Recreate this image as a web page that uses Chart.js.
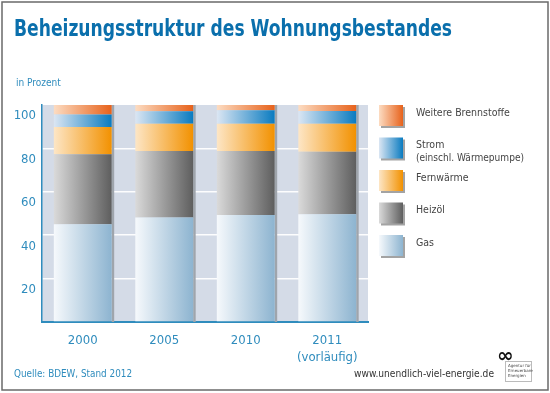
<!DOCTYPE html>
<html>
<head>
<meta charset="utf-8">
<script src="https://cdn.jsdelivr.net/npm/chart.js@4"></script>
<style>
  html, body { margin: 0; padding: 0; background: #fff; }
  #wrap { width: 550px; height: 393px; }
</style>
</head>
<body>
<div id="wrap"><canvas id="heizChart" width="550" height="393"></canvas></div>
<script>
// Beheizungsstruktur des Wohnungsbestandes, in Prozent
const years = ["2000", "2005", "2010", ["2011", "(vorläufig)"]];

const gas       = [45.0, 48.1, 49.3, 49.6];
const heizoel   = [32.3, 30.7, 29.5, 28.9];
const fernwaerme = [12.6, 12.6, 12.6, 12.9];
const strom     = [5.7, 5.7, 6.2, 5.8];
const weitere   = [4.4, 2.9, 2.4, 2.8];

const yTicks = [20, 40, 60, 80, 100];

const FONT = "'DejaVu Sans Condensed', 'Liberation Sans Narrow', 'DejaVu Sans', sans-serif";
const BLUE = "#2f8cbd";
const BAR_PCT = 0.71;

// left (light) -> right (full colour) gradient for each bar segment
function barGradient(light, dark) {
  return function (c) {
    const chart = c.chart;
    const xs = chart.scales.x;
    if (!xs || c.dataIndex === undefined) return dark;
    const cx = xs.getPixelForValue(c.dataIndex);
    const w = xs.width / years.length * BAR_PCT;
    if (!isFinite(cx) || !isFinite(w) || w <= 0) return dark;
    const g = chart.ctx.createLinearGradient(cx - w / 2, 0, cx + w / 2, 0);
    g.addColorStop(0, light);
    g.addColorStop(1, dark);
    return g;
  };
}

const series = [
  { label: "Gas", data: gas, light: "#f6f9fc", dark: "#8db4d0" },
  { label: "Heizöl", data: heizoel, light: "#dadada", dark: "#5e5e5e" },
  { label: "Fernwärme", data: fernwaerme, light: "#fde6c6", dark: "#f29100" },
  { label: ["Strom", "(einschl. Wärmepumpe)"], data: strom, light: "#dbe6f3", dark: "#0a7bc0" },
  { label: "Weitere Brennstoffe", data: weitere, light: "#fcdcc2", dark: "#e7621b" }
];

const plotBg = {
  id: "plotBg",
  beforeDraw(chart) {
    const { ctx, chartArea: a } = chart;
    ctx.save();
    ctx.fillStyle = "#d4dbe7";
    ctx.fillRect(a.left, a.top, a.right - a.left, a.bottom - a.top);
    ctx.restore();
  },
  beforeDatasetsDraw(chart) {
    // grey shadow right of each bar column
    const { ctx, chartArea: a } = chart;
    const meta = chart.getDatasetMeta(0);
    ctx.save();
    ctx.fillStyle = "#9fa5ac";
    meta.data.forEach(el => {
      ctx.fillRect(el.x + el.width / 2, a.top, 2.5, a.bottom - a.top);
    });
    ctx.restore();
  }
};

const decorations = {
  id: "decorations",
  afterDraw(chart) {
    const ctx = chart.ctx;
    ctx.save();
    // frame
    ctx.strokeStyle = "#6a6a6a";
    ctx.lineWidth = 1.5;
    ctx.strokeRect(2, 2, 546, 388);

    // title
    ctx.fillStyle = "#0a6fac";
    ctx.font = "bold 23px " + FONT;
    ctx.textBaseline = "alphabetic";
    ctx.textAlign = "left";
    ctx.fillText("Beheizungsstruktur des Wohnungsbestandes", 14, 36, 438);

    ctx.fillStyle = BLUE;
    ctx.font = "10px " + FONT;
    ctx.fillText("in Prozent", 16, 86);

    // legend (top = last dataset)
    const ds = chart.data.datasets;
    for (let i = 0; i < ds.length; i++) {
      const s = series[ds.length - 1 - i];
      const top = 105 + i * 32.5;
      ctx.fillStyle = "#a3a3a3";
      ctx.fillRect(381, top + 2, 24, 21);
      const g = ctx.createLinearGradient(379, 0, 403, 0);
      g.addColorStop(0, s.light);
      g.addColorStop(1, s.dark);
      ctx.fillStyle = g;
      ctx.fillRect(379, top, 24, 21);
      ctx.fillStyle = "#444";
      ctx.font = "10.5px " + FONT;
      ctx.textBaseline = "middle";
      const lines = Array.isArray(s.label) ? s.label : [s.label];
      lines.forEach((t, k) => ctx.fillText(t, 416, top + 8 + k * 12.5, 108));
    }

    // footer
    ctx.textBaseline = "alphabetic";
    ctx.font = "11px " + FONT;
    ctx.fillStyle = BLUE;
    ctx.fillText("Quelle: BDEW, Stand 2012", 14, 377, 118);
    ctx.fillStyle = "#333";
    ctx.fillText("www.unendlich-viel-energie.de", 354, 377, 140);

    // logo
    ctx.fillStyle = "#111";
    ctx.font = "bold 20px 'DejaVu Sans', sans-serif";
    ctx.fillText("\u221e", 497, 362);
    ctx.strokeStyle = "#bbb";
    ctx.lineWidth = 1;
    ctx.strokeRect(505.5, 361.5, 26, 20);
    ctx.fillStyle = "#444";
    ctx.font = "4px 'DejaVu Sans', sans-serif";
    ctx.fillText("Agentur für", 508, 367);
    ctx.fillText("Erneuerbare", 508, 372);
    ctx.fillText("Energien", 508, 377);
    ctx.restore();
  }
};

const chartData = {
  labels: years,
  datasets: series.map(s => ({
    label: s.label,
    data: s.data,
    backgroundColor: barGradient(s.light, s.dark),
    borderWidth: 0,
    barPercentage: BAR_PCT,
    categoryPercentage: 1
  }))
};

new Chart(document.getElementById("heizChart"), {
  type: "bar",
  data: chartData,
  options: {
    responsive: false,
    animation: false,
    layout: { padding: { top: 105, right: 182, left: 0, bottom: 0 } },
    plugins: {
      legend: { display: false },
      tooltip: { enabled: false }
    },
    scales: {
      x: {
        stacked: true,
        afterFit: s => { s.height = 71; },
        grid: { display: false },
        border: { color: BLUE, width: 2 },
        ticks: {
          color: BLUE,
          padding: 2,
          font: { family: FONT, size: 13, lineHeight: 1.3 }
        }
      },
      y: {
        stacked: true,
        min: 0,
        max: 100,
        afterFit: s => { s.width = 42; },
        afterBuildTicks: s => { s.ticks = [0].concat(yTicks).map(v => ({ value: v })); },
        grid: {
          drawTicks: false,
          lineWidth: 1.5,
          color: c => (c.tick && c.tick.value > 0 && c.tick.value < 100) ? "rgba(255,255,255,0.95)" : "rgba(0,0,0,0)"
        },
        border: { color: BLUE, width: 1.5 },
        ticks: {
          color: BLUE,
          padding: 6,
          labelOffset: 11,
          font: { family: FONT, size: 13 },
          callback: v => (v === 0 ? "" : v)
        }
      }
    }
  },
  plugins: [plotBg, decorations]
});
</script>
</body>
</html>
